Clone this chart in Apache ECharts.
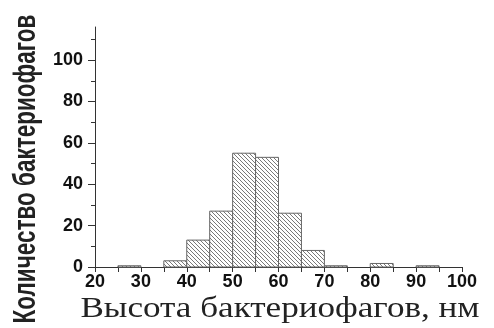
<!DOCTYPE html>
<html><head><meta charset="utf-8">
<script src="https://cdn.jsdelivr.net/npm/echarts@6/dist/echarts.min.js"></script>
<style>html,body{margin:0;padding:0;background:#fff}#c{width:494px;height:328px}</style>
</head><body><div id="c"></div>
<script>
// Histogram bins (nm) and counts
const binStart = [25, 35, 40, 45, 50, 55, 60, 65, 70, 80, 90];
const binEnd   = [30, 40, 45, 50, 55, 60, 65, 70, 75, 85, 95];
const counts   = [0.6, 3, 13, 27, 55, 53, 26, 8, 0.6, 1.7, 0.6];
const yMajorTicks = [0, 20, 40, 60, 80, 100];
const yMinorTicks = [10, 30, 50, 70, 90, 110];
const xTitle = 'Высота бактериофагов, нм';
const yTitle = 'Количество бактериофагов';

const pc = document.createElement('canvas');
const s = 4;
pc.width = s; pc.height = s;
const g = pc.getContext('2d');
g.fillStyle = '#fff'; g.fillRect(0, 0, s, s);
g.strokeStyle = '#6a6a6a'; g.lineWidth = 0.9;
g.beginPath();
g.moveTo(-s, 0); g.lineTo(s, 2 * s);
g.moveTo(0, -s); g.lineTo(2 * s, s);
g.moveTo(0, 0); g.lineTo(s, s);
g.stroke();

const data = binStart.map((b, i) => [b, binEnd[i], counts[i]]);
const labelStyle = {color: '#111', fontWeight: 'bold', fontFamily: '"Liberation Sans"', fontSize: 18};
const chart = echarts.init(document.getElementById('c'));
chart.setOption({
  animation: false,
  grid: {left: 95, right: 32, top: 27, bottom: 61},
  xAxis: {
    type: 'value', min: 20, max: 100, interval: 10,
    axisLine: {lineStyle: {color: '#333', width: 1}},
    axisTick: {length: 5, lineStyle: {color: '#333'}},
    minorTick: {show: true, splitNumber: 2, length: 5, lineStyle: {color: '#333'}},
    splitLine: {show: false},
    axisLabel: Object.assign({margin: 6}, labelStyle)
  },
  yAxis: [{
    type: 'value', min: 0, max: 116,
    axisLine: {show: true, lineStyle: {color: '#333', width: 1}},
    axisTick: {show: true, length: 7, customValues: yMajorTicks, lineStyle: {color: '#333'}},
    splitLine: {show: false},
    axisLabel: Object.assign({margin: 12, customValues: yMajorTicks}, labelStyle)
  }, {
    type: 'value', min: 0, max: 116, position: 'left',
    axisLine: {show: false},
    axisTick: {show: true, length: 4, customValues: yMinorTicks, lineStyle: {color: '#333'}},
    splitLine: {show: false},
    axisLabel: {show: false}
  }],
  series: [{
    type: 'custom',
    data: data,
    encode: {x: [0, 1], y: 2},
    renderItem: function (params, api) {
      const p0 = api.coord([api.value(0), api.value(2)]);
      const p1 = api.coord([api.value(1), 0]);
      return {
        type: 'rect',
        shape: {x: p0[0], y: p0[1], width: p1[0] - p0[0], height: p1[1] - p0[1]},
        style: {fill: {image: pc, repeat: 'repeat'}, stroke: '#666', lineWidth: 1}
      };
    }
  }],
  graphic: [{
    type: 'text', x: 280, y: 309,
    style: {text: xTitle, font: '30px "Liberation Serif"', fill: '#222', textAlign: 'center', textVerticalAlign: 'middle'},
    scaleX: 1.17
  }, {
    type: 'text', x: 26, y: 169, rotation: Math.PI / 2,
    style: {text: yTitle, font: 'bold 22.5px "Liberation Sans"', fill: '#222', textAlign: 'center', textVerticalAlign: 'middle'},
    scaleY: 1.42
  }]
});
</script></body></html>
